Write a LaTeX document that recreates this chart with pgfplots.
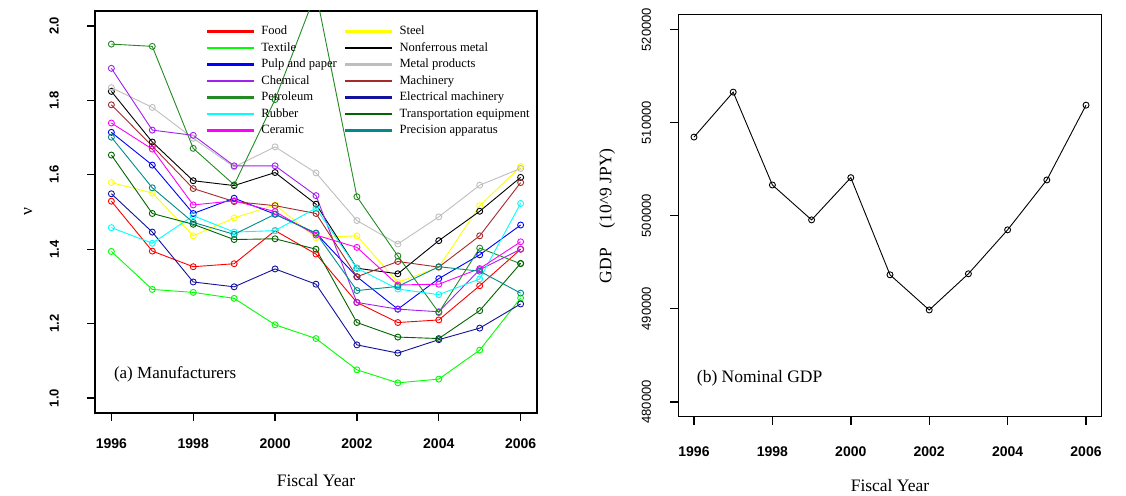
\documentclass[border=0pt]{standalone}
\usepackage{fontspec}
\setmainfont{Liberation Serif}
\setsansfont{Liberation Sans}
\usepackage{pgfplots}
\usepackage{pgfplotstable}
\pgfplotsset{compat=1.18}

\definecolor{cfood}{HTML}{FF0000}
\definecolor{ctext}{HTML}{00FF00}
\definecolor{cpulp}{HTML}{0000FF}
\definecolor{cchem}{HTML}{A020F0}
\definecolor{cpetro}{HTML}{228B22}
\definecolor{crubb}{HTML}{00FFFF}
\definecolor{ccera}{HTML}{FF00FF}
\definecolor{csteel}{HTML}{FFFF00}
\definecolor{cnonf}{HTML}{000000}
\definecolor{cmetal}{HTML}{BEBEBE}
\definecolor{cmach}{HTML}{A52A2A}
\definecolor{celec}{HTML}{12129C}
\definecolor{ctrans}{HTML}{006400}
\definecolor{cprec}{HTML}{008B8B}

% nu by industry, fiscal years 1996-2006
\pgfplotstableread{
year food  textile pulp  chem  petro rubber ceram steel nonf  metal mach  elec  trans prec
1996 1.529 1.394   1.714 1.886 1.951 1.458  1.739 1.579 1.824 1.834 1.788 1.549 1.653 1.701
1997 1.395 1.292   1.626 1.720 1.945 1.416  1.669 1.551 1.688 1.781 1.677 1.446 1.496 1.565
1998 1.353 1.284   1.496 1.706 1.671 1.490  1.519 1.436 1.584 1.698 1.563 1.312 1.467 1.472
1999 1.361 1.268   1.537 1.624 1.573 1.446  1.530 1.484 1.571 1.621 1.528 1.299 1.426 1.440
2000 1.450 1.197   1.494 1.624 1.802 1.450  1.501 1.519 1.606 1.675 1.517 1.347 1.428 1.494
2001 1.387 1.160   1.443 1.544 2.090 1.510  1.438 1.431 1.521 1.605 1.496 1.306 1.400 1.443
2002 1.257 1.076   1.326 1.257 1.541 1.349  1.405 1.436 1.349 1.477 1.326 1.143 1.203 1.289
2003 1.203 1.041   1.239 1.239 1.382 1.293  1.304 1.311 1.334 1.414 1.367 1.121 1.164 1.300
2004 1.210 1.051   1.321 1.232 1.230 1.278  1.306 1.352 1.423 1.487 1.352 1.157 1.160 1.353
2005 1.302 1.129   1.385 1.345 1.403 1.320  1.348 1.517 1.502 1.572 1.436 1.188 1.235 1.341
2006 1.400 1.269   1.465 1.400 1.361 1.523  1.420 1.622 1.593 1.617 1.579 1.253 1.362 1.282
}\nutab

% nominal GDP, 10^9 JPY
\pgfplotstableread{
year gdp
1996 508450
1997 513280
1998 503300
1999 499550
2000 504090
2001 493650
2002 489870
2003 493760
2004 498480
2005 503840
2006 511880
}\gdptab

\pgfplotsset{
  panel/.style={
    scale only axis,
    xmin=1995.6, xmax=2006.4,
    xtick={1996,1998,...,2006},
    tick pos=left, tick align=outside,
    major tick length=8bp,
    tick style={black, line width=1.4bp},
    /pgf/number format/assume math mode=true,
    x tick label style={font=\sffamily\bfseries\fontsize{14bp}{14bp}\selectfont,
      /pgf/number format/1000 sep={}, inner sep=0pt, anchor=north},
    y tick label style={rotate=90, anchor=south, inner sep=0pt},
    label style={font=\fontsize{17.5bp}{17.5bp}\selectfont},
    xlabel={Fiscal Year},
  },
  ser/.style={color=#1, mark=o, mark size=3bp, line width=0.9bp,
    mark options={solid, line width=0.9bp}},
}

\newcommand{\ent}[1]{\addlegendentry{\hspace{3bp}\makebox[80bp][l]{#1}}}

\begin{document}
\begin{tikzpicture}
\useasboundingbox (0,0) rectangle (1126bp,496bp);

\begin{axis}[panel,
  at={(95bp,83bp)}, anchor=south west,
  width=442bp, height=402bp,
  ymin=0.96, ymax=2.04,
  ytick={1.0,1.2,...,2.01},
  axis line style={line width=2.4bp},
  xticklabel style={yshift=-18bp},
  yticklabel style={font=\sffamily\bfseries\fontsize{13bp}{13bp}\selectfont,
    /pgf/number format/fixed, /pgf/number format/fixed zerofill,
    /pgf/number format/precision=1, yshift=28bp},
  ylabel={ν},
  ylabel style={at={(axis description cs:-0.151,0.5)}, anchor=center},
  xlabel style={at={(axis description cs:0.5,-0.169)}, anchor=center},
  legend columns=2,
  legend cell align=left,
  legend image code/.code={\draw[#1, line width=2.2bp] (0bp,0bp) -- (47bp,0bp);},
  legend style={at={(axis description cs:0.251,0.970)}, anchor=north west,
    draw=none, fill=none, inner sep=0pt, row sep=0pt,
    font=\fontsize{12.6bp}{12.6bp}\selectfont,
    nodes={inner ysep=2.25bp, inner xsep=3bp, text height=9bp, text depth=3bp}},
]
\addplot[ser=cfood]  table[y=food]    {\nutab}; \ent{Food}
\addplot[ser=csteel] table[y=steel]   {\nutab}; \ent{Steel}
\addplot[ser=ctext]  table[y=textile] {\nutab}; \ent{Textile}
\addplot[ser=cnonf]  table[y=nonf]    {\nutab}; \ent{Nonferrous metal}
\addplot[ser=cpulp]  table[y=pulp]    {\nutab}; \ent{Pulp and paper}
\addplot[ser=cmetal] table[y=metal]   {\nutab}; \ent{Metal products}
\addplot[ser=cchem]  table[y=chem]    {\nutab}; \ent{Chemical}
\addplot[ser=cmach]  table[y=mach]    {\nutab}; \ent{Machinery}
\addplot[ser=cpetro] table[y=petro]   {\nutab}; \ent{Petroleum}
\addplot[ser=celec]  table[y=elec]    {\nutab}; \ent{Electrical machinery}
\addplot[ser=crubb]  table[y=rubber]  {\nutab}; \ent{Rubber}
\addplot[ser=ctrans] table[y=trans]   {\nutab}; \ent{Transportation equipment}
\addplot[ser=ccera]  table[y=ceram]   {\nutab}; \ent{Ceramic}
\addplot[ser=cprec]  table[y=prec]    {\nutab}; \ent{Precision apparatus}
\node[anchor=west, inner sep=0pt, font=\fontsize{17bp}{17bp}\selectfont]
  at (axis cs:1996.06,1.063) {(a) Manufacturers};
\end{axis}

\begin{axis}[panel,
  at={(678.3bp,79.3bp)}, anchor=south west,
  width=423.4bp, height=402bp,
  ymin=478400, ymax=521600,
  ytick={480000,490000,...,520000},
  scaled y ticks=false,
  axis line style={line width=1.4bp},
  xticklabel style={yshift=-22bp},
  yticklabel style={font=\sffamily\fontsize{13bp}{13bp}\selectfont,
    /pgf/number format/fixed, /pgf/number format/1000 sep={}, yshift=19bp},
  ylabel={GDP\hspace{20bp}(10\textasciicircum 9 JPY)},
  ylabel style={at={(axis description cs:-0.168,0.5)}, anchor=center},
  xlabel style={at={(axis description cs:0.5,-0.172)}, anchor=center},
]
\addplot[ser=black] table[y=gdp] {\gdptab};
\node[anchor=west, inner sep=0pt, font=\fontsize{17.5bp}{17.5bp}\selectfont]
  at (axis cs:1996.07,482500) {(b) Nominal GDP};
\end{axis}
\end{tikzpicture}
\end{document}
